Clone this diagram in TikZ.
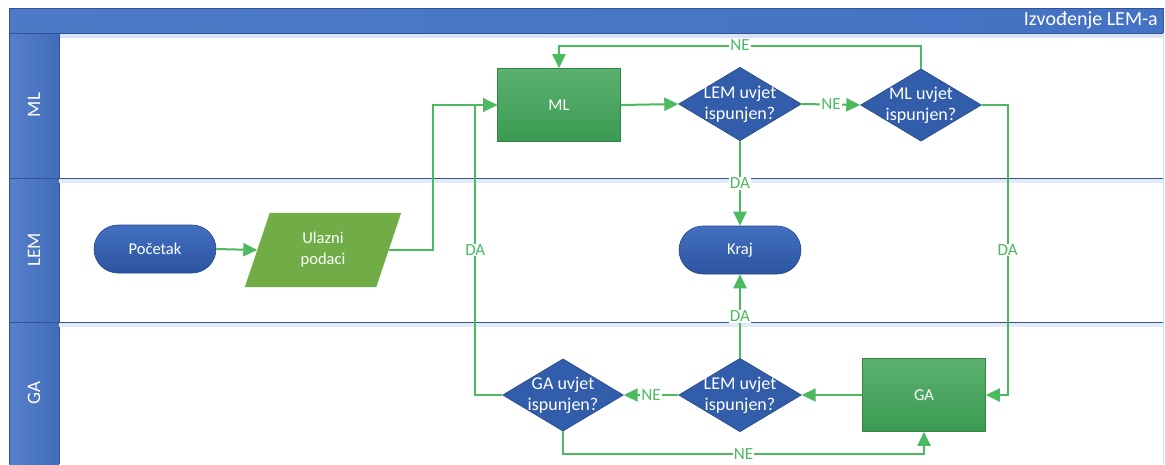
\documentclass[tikz,border=0pt]{standalone}
\usepackage{fontspec}
\setmainfont{Carlito}
\usetikzlibrary{shapes.geometric,arrows.meta,calc}
\definecolor{hdr}{RGB}{68,114,196}
\definecolor{hdrdark}{RGB}{47,85,151}
\definecolor{dia}{RGB}{50,93,170}
\definecolor{diaedge}{RGB}{38,72,135}
\definecolor{termtop}{RGB}{66,112,192}
\definecolor{termbot}{RGB}{44,84,160}
\definecolor{gbox}{RGB}{62,163,86}
\definecolor{gboxedge}{RGB}{50,135,70}
\definecolor{para}{RGB}{112,173,71}
\definecolor{conn}{RGB}{76,186,94}
\definecolor{lane}{RGB}{47,85,151}
\tikzset{
  flow/.style={draw=conn, line width=2pt, -{Triangle[length=14pt,width=13pt]}},
  lbl/.style={fill=white, text=conn, font=\fontsize{17}{17}\selectfont, inner sep=1pt},
  dec/.style={diamond, aspect=1.67, fill=dia, draw=diaedge, line width=0.6pt, text=white,
    minimum width=120, minimum height=72, inner sep=-2pt, align=center,
    font=\fontsize{18}{21}\selectfont},
  term/.style={rectangle, rounded corners=24pt, top color=termtop, bottom color=termbot,
    draw=diaedge, line width=0.6pt, text=white, minimum width=122, minimum height=48,
    font=\fontsize{16.5}{16.5}\selectfont},
  proc/.style={rectangle, top color=gbox!85!white, bottom color=gbox!95!black, draw=gboxedge, line width=0.6pt,
    text=white, minimum width=123, minimum height=73, font=\fontsize{16.5}{16.5}\selectfont},
  lanelbl/.style={rotate=90, text=white, font=\fontsize{19}{19}\selectfont},
}
\begin{document}
\begin{tikzpicture}[x=1pt,y=-1pt]
\useasboundingbox (0,0) rectangle (1165,464);
\fill[white] (0,0) rectangle (1165,464);
% pool frame
\fill[left color=hdr!90!white, right color=hdr!95!black] (9,33) rectangle (59,464);
\fill[left color=hdr!95!white, right color=hdr] (9,8) rectangle (1163,33);
\draw[hdrdark, line width=0.8pt] (9,464) -- (9,8) -- (1163,8) -- (1163,33);
\draw[hdr!20, line width=4pt] (59,36) -- (1163,36);
\draw[hdrdark, line width=0.8pt] (9,33) -- (1163,33);
\draw[hdrdark, line width=0.8pt] (59,33) -- (59,464);
\draw[hdr!25] (1163,33) -- (1163,464);
% lane separators
\draw[hdr!15, line width=4pt] (59,181) -- (1163,181);
\draw[hdr!15, line width=4pt] (59,325) -- (1163,325);
\draw[lane, line width=1pt] (9,178) -- (1163,178);
\draw[lane, line width=1pt] (9,322) -- (1163,322);
% titles
\node[anchor=east, text=white, font=\fontsize{20}{20}\selectfont, inner sep=0pt] (title) at (1158,20) {Izvođenje LEM-a};
\node[lanelbl] (lml) at (34,105) {ML};
\node[lanelbl] (llem) at (34,250) {LEM};
\node[lanelbl] (lga) at (34,393) {GA};
% nodes
\node[term] (start) at (155,249) {Početak};
\node[minimum width=131, minimum height=74, inner sep=0pt] (ul) at (323,250) {};
\fill[para] ($(ul.north west)+(12.5,0)$) -- ($(ul.north east)+(12.5,0)$) -- ($(ul.south east)+(-12.5,0)$) -- ($(ul.south west)+(-12.5,0)$) -- cycle;
\node[text=white, align=center, font=\fontsize{16.5}{21}\selectfont] (ultext) at (ul.center) {Ulazni\\podaci};
\node[proc] (ml) at (559,105) {ML};
\node[dec] (lem1) at (740,104) {LEM uvjet\\ispunjen?};
\node[dec] (mlc) at (921,105) {ML uvjet\\ispunjen?};
\node[term] (kraj) at (740,250) {Kraj};
\node[proc] (ga) at (924,395) {GA};
\node[dec] (lem2) at (740,395) {LEM uvjet\\ispunjen?};
\node[dec] (gac) at (563,395) {GA uvjet\\ispunjen?};
% connectors
\draw[flow] (start.east) -- (ul.west);
\draw[flow] (ul.east) -- ++(44,0) |- (ml.west);
\draw[flow] (ml.east) -- (lem1.west);
\draw[flow] (lem1.east) -- node[lbl]{NE} (mlc.west);
\draw[flow] (mlc.north) -- ++(0,-23) -| node[lbl,pos=0.25]{NE} (ml.north);
\draw[flow] (lem1.south) -- node[lbl,pos=0.5]{DA} (kraj.north);
\draw[flow] (mlc.east) -- ++(26,0) |- node[lbl,pos=0.25]{DA} (ga.east);
\draw[flow] (ga.west) -- (lem2.east);
\draw[flow] (lem2.north) -- node[lbl,pos=0.5]{DA} (kraj.south);
\draw[flow] (lem2.west) -- node[lbl,pos=0.5]{NE} (gac.east);
\draw[flow] (gac.west) -- ++(-27,0) |- node[lbl,pos=0.25]{DA} (ml.west);
\draw[flow] (gac.south) -- ++(0,23) -| node[lbl,pos=0.25]{NE} (ga.south);
\end{tikzpicture}
\end{document}
